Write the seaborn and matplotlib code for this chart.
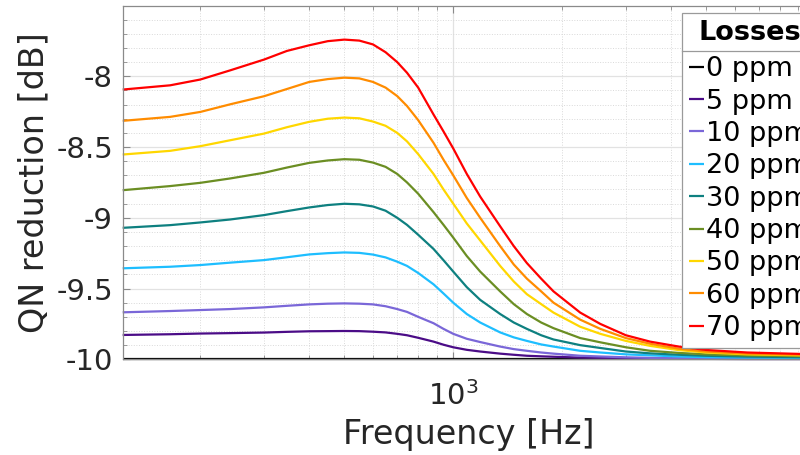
import matplotlib
matplotlib.use("Agg")
import matplotlib.pyplot as plt
from matplotlib.lines import Line2D
from matplotlib.ticker import FixedLocator, MultipleLocator, LogLocator, NullFormatter, LogFormatterSciNotation
import numpy as np
import pandas as pd
import seaborn as sns

# ---------------- data ----------------
freq_hz = [122, 165, 200, 242, 300, 347, 400, 450, 500, 550, 600, 650, 700, 745, 800, 882,
           940, 1000, 1090, 1187, 1348, 1470, 1598, 1750, 1893, 2244, 2550, 3000, 3500,
           4200, 5000, 6500, 9100, 10000]

loss_labels = ["0 ppm", "5 ppm", "10 ppm", "20 ppm", "30 ppm",
               "40 ppm", "50 ppm", "60 ppm", "70 ppm"]

qn_0 = [-10.0] * 34
qn_5 = [-9.828, -9.823, -9.818, -9.815, -9.811, -9.806, -9.802, -9.801, -9.800,
        -9.801, -9.805, -9.810, -9.820, -9.830, -9.848, -9.875, -9.897, -9.915, -9.933,
        -9.945, -9.960, -9.968, -9.975, -9.979, -9.982, -9.988, -9.990, -9.993, -9.995,
        -9.996, -9.997, -9.998, -9.998, -9.998]
qn_10 = [-9.668, -9.659, -9.652, -9.645, -9.633, -9.622, -9.612, -9.607, -9.605,
         -9.607, -9.612, -9.625, -9.645, -9.665, -9.700, -9.745, -9.785, -9.820, -9.855,
         -9.878, -9.910, -9.928, -9.940, -9.952, -9.960, -9.975, -9.980, -9.986, -9.990,
         -9.993, -9.995, -9.996, -9.997, -9.997]
qn_20 = [-9.357, -9.346, -9.334, -9.317, -9.299, -9.279, -9.259, -9.250, -9.245,
         -9.248, -9.260, -9.280, -9.310, -9.340, -9.390, -9.470, -9.535, -9.600, -9.680,
         -9.740, -9.810, -9.845, -9.870, -9.895, -9.910, -9.940, -9.952, -9.965, -9.972,
         -9.980, -9.985, -9.988, -9.990, -9.990]
qn_30 = [-9.071, -9.052, -9.033, -9.012, -8.981, -8.953, -8.927, -8.910, -8.901,
         -8.905, -8.920, -8.950, -9.000, -9.050, -9.120, -9.220, -9.300, -9.380, -9.490,
         -9.580, -9.680, -9.740, -9.785, -9.830, -9.860, -9.900, -9.920, -9.945, -9.958,
         -9.968, -9.975, -9.981, -9.985, -9.987]
qn_40 = [-8.805, -8.776, -8.753, -8.722, -8.682, -8.645, -8.612, -8.595, -8.586,
         -8.590, -8.610, -8.640, -8.690, -8.750, -8.830, -8.960, -9.050, -9.140, -9.270,
         -9.380, -9.520, -9.610, -9.680, -9.740, -9.780, -9.850, -9.880, -9.915, -9.940,
         -9.955, -9.965, -9.973, -9.978, -9.980]
qn_50 = [-8.553, -8.527, -8.494, -8.452, -8.405, -8.360, -8.322, -8.300, -8.292,
         -8.297, -8.320, -8.350, -8.400, -8.460, -8.550, -8.690, -8.800, -8.900, -9.040,
         -9.160, -9.340, -9.450, -9.540, -9.610, -9.670, -9.770, -9.820, -9.870, -9.905,
         -9.935, -9.952, -9.965, -9.972, -9.975]
qn_60 = [-8.315, -8.287, -8.252, -8.198, -8.141, -8.090, -8.040, -8.020, -8.010,
         -8.015, -8.040, -8.080, -8.140, -8.210, -8.310, -8.470, -8.590, -8.700, -8.860,
         -9.000, -9.200, -9.330, -9.430, -9.520, -9.600, -9.720, -9.785, -9.850, -9.890,
         -9.925, -9.945, -9.960, -9.968, -9.970]
qn_70 = [-8.094, -8.064, -8.023, -7.958, -7.882, -7.821, -7.781, -7.752, -7.741,
         -7.748, -7.775, -7.830, -7.900, -7.975, -8.080, -8.270, -8.390, -8.510, -8.690,
         -8.850, -9.060, -9.200, -9.320, -9.430, -9.520, -9.670, -9.750, -9.830, -9.875,
         -9.910, -9.934, -9.952, -9.962, -9.965]

series = [qn_0, qn_5, qn_10, qn_20, qn_30, qn_40, qn_50, qn_60, qn_70]

line_colors = ["#000000", "#4B0C87", "#7A67D8", "#1EBEFF", "#0E8080",
               "#6B8E23", "#FFD700", "#FF8C00", "#FF0000"]

y_ticks = [-10, -9.5, -9, -8.5, -8]
y_tick_labels = ["-10", "-9.5", "-9", "-8.5", "-8"]
x_major_ticks = [1000]

# ---------------- build table ----------------
rows = []
for lab, vals in zip(loss_labels, series):
    for f, v in zip(freq_hz, vals):
        rows.append({"freq": f, "qn": v, "loss": lab})
df = pd.DataFrame(rows)

# ---------------- figure ----------------
fig = plt.figure(figsize=(8, 4.55), dpi=100)
fig.patch.set_facecolor("white")
ax = fig.add_axes([122.7 / 800, 1 - 359.3 / 455, 692.3 / 800, 353.8 / 455])

sns.lineplot(data=df, x="freq", y="qn", hue="loss", hue_order=loss_labels,
             palette=dict(zip(loss_labels, line_colors)), linewidth=1.6,
             estimator=None, sort=False, legend=False, ax=ax)
for ln in ax.get_lines():
    ln.set_clip_on(False)
    ln.set_solid_capstyle("butt")
    ln.set_solid_joinstyle("round")

ax.set_xscale("log")
ax.set_xlim(122, 10000)
ax.set_ylim(-10, -7.5)

ax.yaxis.set_major_locator(FixedLocator(y_ticks))
ax.set_yticklabels(y_tick_labels)
ax.yaxis.set_minor_locator(MultipleLocator(0.1))

ax.xaxis.set_major_locator(FixedLocator(x_major_ticks))
ax.xaxis.set_major_formatter(LogFormatterSciNotation())
ax.xaxis.set_minor_locator(LogLocator(base=10, subs=np.arange(2, 10)))
ax.xaxis.set_minor_formatter(NullFormatter())

ax.set_axisbelow(True)
ax.grid(which="major", color="#e2e2e2", linewidth=0.9, linestyle="-")
ax.grid(which="minor", color="#d9d9d9", linewidth=0.7, linestyle=":")

for side, sp in ax.spines.items():
    sp.set_color("#8a8a8a")
    sp.set_linewidth(0.9)

ax.tick_params(which="both", direction="in", top=True, right=True, color="#8a8a8a",
               labelcolor="#262626", labelsize=21)
ax.tick_params(which="major", length=5, width=0.8)
ax.tick_params(which="minor", length=3, width=0.6)
ax.tick_params(axis="y", pad=7)
ax.tick_params(axis="x", pad=16)

ax.set_xlabel("Frequency [Hz]", fontsize=24, color="#262626", labelpad=5)
ax.set_ylabel("QN reduction [dB]", fontsize=24, color="#262626", labelpad=4)

handles = ax.get_lines()[:len(loss_labels)]
leg = ax.legend(handles, loss_labels, title="Losses", loc="upper left",
                bbox_to_anchor=(682 / 800, 1 - 13 / 455), bbox_transform=fig.transFigure,
                borderaxespad=0, fontsize=19.5,
                title_fontproperties={"weight": "bold", "size": 19.5},
                frameon=True, fancybox=False, framealpha=1, edgecolor="#9a9a9a",
                handlelength=0.55, handletextpad=0.1, labelspacing=0.235, borderpad=0.25)
leg.get_frame().set_linewidth(0.9)
for lh in leg.get_lines():
    lh.set_linewidth(1.6)
try:
    leg._legend_box.sep = 0.235 * 19.5 + 2.9
except Exception:
    pass

# separator under the legend title
fig.canvas.draw()
renderer = fig.canvas.get_renderer()
fb = leg.get_window_extent(renderer)
tb = leg.get_title().get_window_extent(renderer)
lb = leg.get_texts()[0].get_window_extent(renderer)
y_sep = (tb.y0 + lb.y1) / 2
W, H = fig.get_size_inches() * fig.dpi
fig.add_artist(Line2D([fb.x0 / W, fb.x1 / W], [y_sep / H, y_sep / H],
                      transform=fig.transFigure, color="#9a9a9a", linewidth=0.9))

fig.savefig("out.png", dpi=100)
